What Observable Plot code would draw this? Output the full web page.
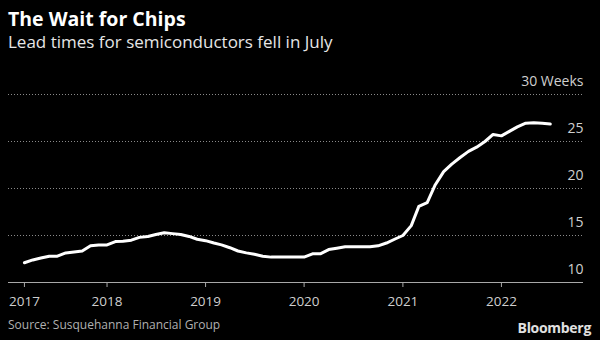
<!DOCTYPE html>
<html>
<head>
<meta charset="utf-8">
<script src="https://cdn.jsdelivr.net/npm/d3@7"></script>
<script src="https://cdn.jsdelivr.net/npm/@observablehq/plot@0.6"></script>
<style>
  html, body { margin: 0; padding: 0; background: #000; width: 600px; height: 340px; overflow: hidden; }
  body { position: relative; font-family: "Open Sans", sans-serif; }
  #title { position: absolute; left: 8px; top: 7px; color: #fff; font-size: 19.5px; font-weight: 700; line-height: 24px; }
  #subtitle { position: absolute; left: 8px; top: 31px; color: #e6e6e6; font-size: 17px; line-height: 22px; }
  #chart { position: absolute; left: 0; top: 60px; }
  #source { position: absolute; left: 8px; top: 316px; color: #b0b0b0; font-size: 12px; line-height: 18px; }
  #logo { position: absolute; right: 9px; top: 319px; color: #e0e0e0; font-size: 14px; font-weight: 700; line-height: 18px; letter-spacing: -0.3px; }
</style>
</head>
<body>
<div id="title">The Wait for Chips</div>
<div id="subtitle">Lead times for semiconductors fell in July</div>
<div id="chart"></div>
<div id="source">Source: Susquehanna Financial Group</div>
<div id="logo">Bloomberg</div>
<script>
// Monthly lead times (weeks), March 2017 through July 2022
const firstMonth = "2017-03-01";
const leadTimes = [
  12.1, 12.4, 12.6, 12.8, 12.8, 13.15, 13.25, 13.35, 13.9, 14.0,      // Mar–Dec 2017
  14.0, 14.35, 14.4, 14.5, 14.8, 14.9, 15.1, 15.3, 15.2, 15.1, 14.9, 14.6, // 2018
  14.45, 14.2, 14.0, 13.7, 13.35, 13.15, 13.0, 12.8, 12.7, 12.7, 12.7, 12.7, // 2019
  12.7, 13.05, 13.05, 13.5, 13.65, 13.8, 13.8, 13.8, 13.8, 13.9, 14.2, 14.6, // 2020
  15.0, 16.05, 18.1, 18.5, 20.4, 21.8, 22.6, 23.3, 23.95, 24.4, 25.0, 25.75, // 2021
  25.6, 26.1, 26.55, 26.95, 27.0, 26.95, 26.85                             // Jan–Jul 2022
];
const xTickDates = ["2017-03-01", "2018-01-01", "2019-01-01", "2020-01-01", "2021-01-01", "2022-01-01"];
const xTickLabels = ["2017", "2018", "2019", "2020", "2021", "2022"];
const yTicks = [10, 15, 20, 25, 30];
const yTickLabels = ["10", "15", "20", "25", "30 Weeks"];
const xDomain = ["2017-01-01", "2022-11-01"];

const start = new Date(firstMonth + "T00:00:00Z");
const data = leadTimes.map((v, i) => ({ date: d3.utcMonth.offset(start, i), value: v }));
const tickDates = xTickDates.map(s => new Date(s + "T00:00:00Z"));
const labelFor = new Map(tickDates.map((d, i) => [+d, xTickLabels[i]]));

const chart = Plot.plot({
  width: 600,
  height: 250,
  marginLeft: 8,
  marginRight: 17,
  marginTop: 34,
  marginBottom: 28,
  style: { background: "#000", color: "#ccc", fontFamily: "'Open Sans', sans-serif", fontSize: "13px" },
  x: { type: "utc", domain: xDomain.map(s => new Date(s + "T00:00:00Z")) },
  y: { domain: [10, 30] },
  marks: [
    Plot.ruleY(yTicks.filter(t => t > 10), { stroke: "#8a8a8a", strokeWidth: 1, strokeDasharray: "1,2" }),
    Plot.ruleY([10], { stroke: "#a8a8a8", strokeWidth: 1.2 }),
    Plot.axisX({ ticks: tickDates, tickFormat: d => labelFor.get(+d), tickSize: 5, tickPadding: 9, stroke: "#a8a8a8", fill: "#cfcfcf", fontSize: 13.5, label: null }),
    Plot.axisY({ ticks: [], label: null }),
    Plot.text(yTicks, { y: d => d, text: (d, i) => yTickLabels[i], frameAnchor: "right", textAnchor: "end", dy: -13, fill: "#cfcfcf", fontSize: 14 }),
    Plot.line(data, { x: "date", y: "value", stroke: "#fff", strokeWidth: 3, strokeLinejoin: "round", strokeLinecap: "round" })
  ]
});
document.getElementById("chart").appendChild(chart);
</script>
</body>
</html>
